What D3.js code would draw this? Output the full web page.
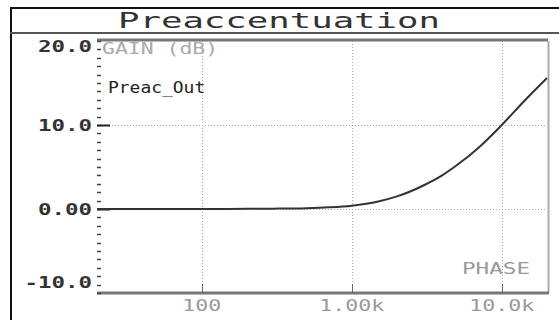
<!DOCTYPE html>
<html>
<head>
<meta charset="utf-8">
<script src="https://cdn.jsdelivr.net/npm/d3@7"></script>
<style>
  html, body { margin: 0; padding: 0; background: #fff; }
  svg { display: block; }
  text { font-family: "DejaVu Sans Mono", "Liberation Mono", monospace; }
</style>
</head>
<body>
<svg id="chart" width="559" height="320"></svg>
<script>
// Preaccentuation (pre-emphasis) gain response, frequency in Hz, gain in dB
const freqs = [20, 50, 100, 200, 300, 500, 700, 1000, 1500, 2000, 3000, 4000, 5000, 7000, 10000, 14000, 20000];
const gainDb = [0, 0, 0, 0.02, 0.04, 0.1, 0.2, 0.4, 0.9, 1.5, 2.8, 4.0, 5.2, 7.3, 10.0, 12.8, 15.6];
const xTicks = [100, 1000, 10000];
const xTickLabels = ["100", "1.00k", "10.0k"];
const yTicks = [20, 10, 0, -10];
const yTickLabels = ["20.0", "10.0", "0.00", "-10.0"];

const svg = d3.select("#chart");
const plotL = 97, plotR = 547, plotT = 41, plotB = 293;

const x = d3.scaleLog().domain([20, 20000]).range([plotL, plotR]);
const y = d3.scaleLinear().domain([-10, 20]).range([plotB, plotT]);

// wide terminal-style text: every glyph gets a fixed cell width
function cellText(sel, cw) {
  return sel.attr("textLength", function () { return this.textContent.length * cw; })
    .attr("lengthAdjust", "spacingAndGlyphs");
}

// outer frame and title bar
svg.append("line").attr("x1", 10).attr("x2", 559).attr("y1", 8).attr("y2", 8)
  .attr("stroke", "#111").attr("stroke-width", 2);
svg.append("line").attr("x1", 11).attr("x2", 11).attr("y1", 8).attr("y2", 320)
  .attr("stroke", "#111").attr("stroke-width", 2);
svg.append("line").attr("x1", 10).attr("x2", 559).attr("y1", 33).attr("y2", 33)
  .attr("stroke", "#555").attr("stroke-width", 2);
svg.append("text").attr("x", 279).attr("y", 28).attr("text-anchor", "middle")
  .attr("font-size", 21).attr("fill", "#333")
  .attr("textLength", 322).attr("lengthAdjust", "spacingAndGlyphs")
  .text("Preaccentuation");

// dotted grid
const grid = svg.append("g").attr("stroke", "#aaa").attr("stroke-width", 1)
  .attr("stroke-dasharray", "1,2");
grid.selectAll("line.v").data(xTicks).join("line").attr("class", "v")
  .attr("x1", d => Math.round(x(d)) + 0.5).attr("x2", d => Math.round(x(d)) + 0.5)
  .attr("y1", plotT).attr("y2", plotB);
grid.selectAll("line.h").data([10, 0]).join("line").attr("class", "h")
  .attr("x1", plotL).attr("x2", plotR)
  .attr("y1", d => Math.round(y(d)) + 0.5).attr("y2", d => Math.round(y(d)) + 0.5);

// plot frame: top, right, bottom
svg.append("line").attr("x1", plotL).attr("x2", plotR + 1).attr("y1", plotT - 1).attr("y2", plotT - 1)
  .attr("stroke", "#777").attr("stroke-width", 3);
svg.append("line").attr("x1", plotR + 1.5).attr("x2", plotR + 1.5).attr("y1", plotT).attr("y2", plotB)
  .attr("stroke", "#aaa").attr("stroke-width", 2);
svg.append("line").attr("x1", plotL).attr("x2", plotR + 2).attr("y1", plotB).attr("y2", plotB)
  .attr("stroke", "#777").attr("stroke-width", 3);

// left axis: minor ticks every 1 dB plus longer major ticks
const minor = d3.range(-10, 20.01, 1);
svg.append("g").selectAll("line").data(minor).join("line")
  .attr("x1", plotL).attr("x2", plotL + 4)
  .attr("y1", d => Math.round(y(d)) + 0.5).attr("y2", d => Math.round(y(d)) + 0.5)
  .attr("stroke", "#444").attr("stroke-width", 1.5);
svg.append("g").selectAll("line").data([10, 0]).join("line")
  .attr("x1", plotL).attr("x2", plotL + 13)
  .attr("y1", d => Math.round(y(d)) + 0.5).attr("y2", d => Math.round(y(d)) + 0.5)
  .attr("stroke", "#222").attr("stroke-width", 2);

// bottom axis ticks
svg.append("g").selectAll("line").data(xTicks).join("line")
  .attr("x1", d => Math.round(x(d)) + 0.5).attr("x2", d => Math.round(x(d)) + 0.5)
  .attr("y1", plotB - 9).attr("y2", plotB)
  .attr("stroke", "#666").attr("stroke-width", 1);

// y tick labels (end labels sit inside the plot range)
const yOffset = { "20": 11, "10": 6, "0": 6, "-10": -5 };
svg.append("g").selectAll("text").data(yTicks).join("text")
  .attr("x", 92).attr("y", d => y(d) + yOffset[d])
  .attr("text-anchor", "end").attr("font-size", 16).attr("font-weight", "bold")
  .attr("fill", "#333")
  .text((d, i) => yTickLabels[i])
  .call(cellText, 13.5);

// x tick labels
svg.append("g").selectAll("text").data(xTicks).join("text")
  .attr("x", d => x(d)).attr("y", 311)
  .attr("text-anchor", "middle").attr("font-size", 16)
  .attr("fill", "#999")
  .text((d, i) => xTickLabels[i])
  .call(cellText, 13);

// in-plot annotations
svg.append("text").attr("x", 102).attr("y", 54).attr("font-size", 15).attr("fill", "#aaa")
  .text("GAIN (dB)").call(cellText, 12.9);
svg.append("text").attr("x", 108).attr("y", 93).attr("font-size", 16).attr("fill", "#222")
  .text("Preac_Out").call(cellText, 10.8);
svg.append("text").attr("x", 462).attr("y", 274)
  .attr("font-size", 15).attr("fill", "#999").text("PHASE").call(cellText, 13.6);

// gain curve
const line = d3.line().x(d => x(d[0])).y(d => y(d[1])).curve(d3.curveMonotoneX);
svg.append("path").datum(freqs.map((f, i) => [f, gainDb[i]]))
  .attr("fill", "none").attr("stroke", "#333").attr("stroke-width", 2)
  .attr("d", line);
</script>
</body>
</html>
